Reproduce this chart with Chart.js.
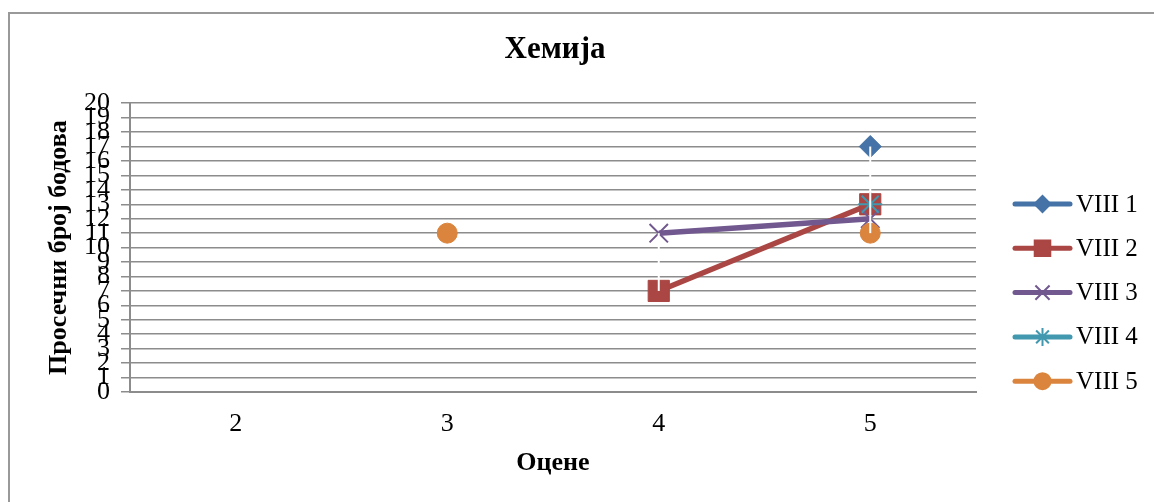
<!DOCTYPE html>
<html>
<head>
<meta charset="utf-8">
<script src="https://cdn.jsdelivr.net/npm/chart.js@4.4.1/dist/chart.umd.min.js"></script>
<style>
  body { margin: 0; background: #fff; }
  canvas { display: block; }
</style>
</head>
<body>
<canvas id="myChart" width="1154" height="502"></canvas>
<script>
// ХЕМИЈА - просечни број бодова по оценама
const categories = ['2', '3', '4', '5'];
const seriesNames = ['VIII 1', 'VIII 2', 'VIII 3', 'VIII 4', 'VIII 5'];
const viii1 = [null, null, null, 17];
const viii2 = [null, null, 7, 13];
const viii3 = [null, null, 11, 12];
const viii4 = [null, null, null, 13];
const viii5 = [null, 11, null, 11];
const yMin = 0;
const yMax = 20;

const serif = "'Liberation Serif', 'Times New Roman', serif";
const gridGray = '#8c8c8c';

const styles = [
  { color: '#4572A7', point: 'rectRot', radius: 11, legendRadius: 8 },
  { color: '#AA4643', point: 'rect', radius: 15, legendRadius: 11 },
  { color: '#71588F', point: 'crossRot', radius: 13, legendRadius: 10 },
  { color: '#4198AF', point: 'star', radius: 12, legendRadius: 9 },
  { color: '#DB843D', point: 'circle', radius: 10, legendRadius: 8 }
];

const values = [viii1, viii2, viii3, viii4, viii5];

const datasets = values.map(function (vals, i) {
  const s = styles[i];
  return {
    label: seriesNames[i],
    data: vals,
    borderColor: s.color,
    backgroundColor: s.color,
    borderWidth: 5.5,
    pointStyle: s.point,
    pointRadius: s.radius,
    pointHoverRadius: s.radius,
    pointBorderWidth: (s.point === 'crossRot' || s.point === 'star') ? 2 : 1,
    pointBackgroundColor: s.color,
    pointBorderColor: s.color,
    spanGaps: false,
    tension: 0,
    order: 5 - i
  };
});

// outer frame of the chart
const framePlugin = {
  id: 'frame',
  beforeDraw(chart) {
    const ctx = chart.ctx;
    ctx.save();
    ctx.fillStyle = '#fff';
    ctx.fillRect(0, 0, chart.width, chart.height);
    ctx.strokeStyle = '#999';
    ctx.lineWidth = 2;
    ctx.strokeRect(9, 13, chart.width + 10, chart.height + 10);
    ctx.restore();
  }
};

// high-low lines between the series on each category
const hiLowPlugin = {
  id: 'hiLow',
  afterDatasetsDraw(chart) {
    const ctx = chart.ctx;
    const xs = chart.scales.x;
    const ys = chart.scales.y;
    ctx.save();
    ctx.strokeStyle = '#ffffff';
    ctx.lineWidth = 2;
    categories.forEach(function (c, idx) {
      const vals = values.map(v => v[idx]).filter(v => v !== null);
      if (vals.length < 2) return;
      const x = xs.getPixelForValue(idx);
      ctx.beginPath();
      ctx.moveTo(x, ys.getPixelForValue(Math.max(...vals)));
      ctx.lineTo(x, ys.getPixelForValue(Math.min(...vals)));
      ctx.stroke();
    });
    ctx.restore();
  }
};

// legend with line + marker like the original
const lineLegendPlugin = {
  id: 'lineLegend',
  afterDraw(chart) {
    const ctx = chart.ctx;
    const x0 = 1015, x1 = 1070, top = 204, step = 44.3;
    ctx.save();
    chart.data.datasets.forEach(function (ds, i) {
      const y = top + i * step;
      const s = styles[i];
      ctx.strokeStyle = s.color;
      ctx.fillStyle = s.color;
      ctx.lineWidth = 5;
      ctx.lineCap = 'round';
      ctx.beginPath();
      ctx.moveTo(x0, y);
      ctx.lineTo(x1, y);
      ctx.stroke();
      ctx.lineCap = 'butt';
      ctx.lineWidth = 2;
      Chart.helpers.drawPoint(ctx, {
        pointStyle: s.point,
        radius: s.legendRadius,
        rotation: 0,
        borderWidth: (s.point === 'crossRot' || s.point === 'star') ? 2 : 1
      }, (x0 + x1) / 2, y);
      ctx.fillStyle = '#000';
      ctx.font = '25px ' + serif;
      ctx.textBaseline = 'middle';
      ctx.textAlign = 'left';
      ctx.fillText(ds.label, 1076, y + 1);
    });
    ctx.restore();
  }
};

const chartCtx = document.getElementById('myChart').getContext('2d');

const myChart = new Chart(chartCtx, {
  type: 'line',
  data: {
    labels: categories,
    datasets: datasets
  },
  plugins: [framePlugin, hiLowPlugin, lineLegendPlugin],
  options: {
    responsive: false,
    animation: false,
    layout: { padding: { left: 0, right: 44, top: 0, bottom: 0 } },
    plugins: {
      legend: { display: false },
      tooltip: { enabled: false },
      title: {
        display: true,
        text: 'Хемија',
        color: '#000',
        font: { family: serif, size: 31, weight: 'bold', lineHeight: 1.2 },
        padding: { top: 31, bottom: 35 }
      }
    },
    scales: {
      x: {
        type: 'category',
        offset: true,
        grid: { display: false, drawTicks: false },
        border: { display: true, color: gridGray, width: 2 },
        ticks: {
          color: '#000',
          font: { family: serif, size: 26 },
          padding: 17
        },
        title: {
          display: true,
          text: 'Оцене',
          color: '#000',
          font: { family: serif, size: 26, weight: 'bold', lineHeight: 1.2 },
          padding: { top: 0, bottom: 23 }
        },
        afterFit(scale) { scale.height = 110; }
      },
      y: {
        min: yMin,
        max: yMax,
        grid: {
          color: gridGray,
          lineWidth: 1.5,
          tickLength: 9,
          tickColor: gridGray
        },
        border: { display: true, color: gridGray, width: 2 },
        ticks: {
          stepSize: 1,
          autoSkip: false,
          color: '#000',
          font: { family: serif, size: 26 },
          padding: 11
        },
        title: {
          display: true,
          text: 'Просечни број бодова',
          color: '#000',
          font: { family: serif, size: 26, weight: 'bold', lineHeight: 1.2 },
          padding: { top: 44, bottom: 0 }
        },
        afterFit(scale) { scale.width = 130; }
      },
      // empty space on the right that holds the legend
      legendSpace: {
        type: 'linear',
        position: 'right',
        display: true,
        grid: { display: false, drawTicks: false },
        border: { display: false },
        ticks: { display: false },
        afterFit(scale) { scale.width = 134; }
      }
    }
  }
});
</script>
</body>
</html>
